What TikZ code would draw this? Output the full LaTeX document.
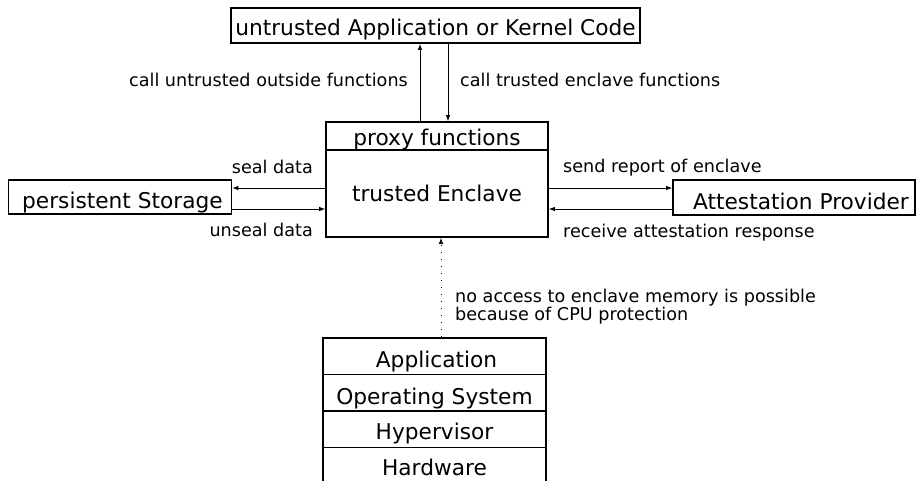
\documentclass[tikz,border=0pt]{standalone}
\usepackage{fontspec}
\setmainfont{DejaVu Sans}
\usetikzlibrary{arrows.meta}
\begin{document}
\begin{tikzpicture}[x=1pt,y=-1pt,
 box/.style={draw, line width=1.6pt, inner sep=0pt, text depth=0pt, font=\fontsize{21.7}{24}\selectfont},
 lbl/.style={font=\fontsize{17.6}{19}\selectfont, inner sep=0pt},
 arr/.style={-{Latex[length=6pt,width=4.5pt]}, line width=0.9pt}]
\useasboundingbox (0,0) rectangle (916,480);
\node[box, text height=19pt, minimum width=409pt, minimum height=35pt] (untrusted) at (435.5,25.5) {untrusted Application or Kernel Code};
\node[box, text height=18pt, minimum width=222pt, minimum height=28pt] (proxy) at (437,136) {proxy functions};
\node[box, text height=16.4pt, minimum width=222pt, minimum height=87pt] (enclave) at (437,193.5) {trusted Enclave\hspace{12pt}};
\node[box, text height=22.6pt, minimum width=223pt, minimum height=34pt] (storage) at (120,197) {\hspace{5pt}persistent Storage};
\node[box, text height=23.6pt, minimum width=242pt, minimum height=35pt] (attest) at (794,197.5) {\hspace{14pt}Attestation Provider};
\node[box, text height=23pt, minimum width=223pt, minimum height=36.5pt] (app) at (434.5,356.25) {\hspace{4pt}Application};
\node[box, text height=22.6pt, minimum width=223pt, minimum height=36.5pt] (os) at (434.5,392.75) {Operating System};
\node[box, text height=20pt, minimum width=223pt, minimum height=36.5pt] (hyp) at (434.5,429.25) {Hypervisor};
\node[box, text height=18.6pt, minimum width=223pt, minimum height=36.5pt] (hw) at (434.5,465.75) {Hardware};

\draw[arr] ([xshift=-17pt]proxy.north) -- ([xshift=-17pt]proxy.north |- untrusted.south);
\draw[arr] ([xshift=11pt]proxy.north |- untrusted.south) -- ([xshift=11pt]proxy.north);
\node[lbl, anchor=base east] (lcall1) at (408,86.7) {call untrusted outside functions};
\node[lbl, anchor=base west] (lcall2) at (460,86.7) {call trusted enclave functions};

\draw[arr] (enclave.west |- 0,188) -- (storage.east |- 0,188);
\draw[arr] (storage.east |- 0,209) -- (enclave.west |- 0,209);
\node[lbl, anchor=base east] (lseal) at (313,173.3) {seal data};
\node[lbl, anchor=base east] (lunseal) at (313,236.7) {unseal data};

\draw[arr] (enclave.east |- 0,188) -- (attest.west |- 0,188);
\draw[arr] (attest.west |- 0,209) -- (enclave.east |- 0,209);
\node[lbl, anchor=base west] (lsend) at (563,172.7) {send report of enclave};
\node[lbl, anchor=base west] (lrecv) at (563,237.3) {receive attestation response};

\draw[arr, dash pattern=on 1pt off 6pt] (app.north -| 441,0) -- (enclave.south -| 441,0);
\node[lbl, anchor=west, align=left, font=\fontsize{17.6}{15.5}\selectfont] (lno) at (455,306.5) {no access to enclave memory is possible\\because of CPU protection};
\end{tikzpicture}
\end{document}
